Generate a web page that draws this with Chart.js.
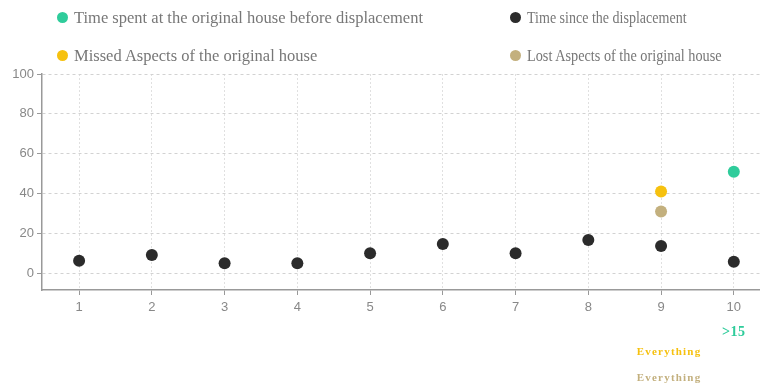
<!DOCTYPE html>
<html>
<head>
<meta charset="utf-8">
<script src="https://cdn.jsdelivr.net/npm/chart.js@4/dist/chart.umd.min.js"></script>
<style>
  html, body { margin: 0; padding: 0; background: #fff; }
  #wrap { position: relative; width: 760px; height: 385px; }
  #legend { position: absolute; left: 0; top: 0; width: 760px; height: 70px; font-family: "Liberation Serif", "Times New Roman", serif; font-size: 16.5px; color: #777; }
  .item { position: absolute; white-space: nowrap; line-height: 20px; transform-origin: 0 50%; }
  .dot { position: absolute; width: 11px; height: 11px; border-radius: 50%; left: -17px; top: 4px; }
</style>
</head>
<body>
<div id="wrap">
  <canvas id="c" width="760" height="385"></canvas>
  <div id="legend"></div>
</div>
<script>
// ---- data ----
const categories = [1, 2, 3, 4, 5, 6, 7, 8, 9, 10];
const yTicks = [0, 20, 40, 60, 80, 100];
const timeSinceDisplacement = [6.3, 9.2, 5, 5, 10, 14.7, 10, 16.7, 13.7, 5.8];
const timeSpentBefore = [null, null, null, null, null, null, null, null, null, 51];
const missedAspects = [null, null, null, null, null, null, null, null, 41, null];
const lostAspects = [null, null, null, null, null, null, null, null, 31, null];
const seriesNames = [
  'Time spent at the original house before displacement',
  'Time since the displacement',
  'Missed Aspects of the original house',
  'Lost Aspects of the original house'
];
const seriesColors = ['#2fcc9b', '#2b2b2b', '#f6c10f', '#c3b07e'];
// value labels shown under the axis (category, series index, text)
const noteCategories = [10, 9, 9];
const noteSeries = [0, 2, 3];
const noteTexts = ['>15', 'Everything', 'Everything'];

function toPoints(arr) {
  return categories.map((c, i) => arr[i] == null ? null : { x: c, y: arr[i] }).filter(p => p);
}
const seriesValues = [timeSpentBefore, timeSinceDisplacement, missedAspects, lostAspects];

// ---- legend (HTML) ----
const legendPos = [[74, 8], [527, 8], [74, 46], [527, 46]];
const legendScale = [1, 0.85, 1, 0.865];
const legend = document.getElementById('legend');
seriesNames.forEach((n, i) => {
  const d = document.createElement('div');
  d.className = 'item';
  d.style.left = legendPos[i][0] + 'px';
  d.style.top = legendPos[i][1] + 'px';
  const dot = document.createElement('span');
  dot.className = 'dot';
  dot.style.background = seriesColors[i];
  d.appendChild(dot);
  const t = document.createElement('span');
  t.style.display = 'inline-block';
  t.style.transformOrigin = '0 50%';
  t.style.transform = 'scaleX(' + legendScale[i] + ')';
  t.textContent = n;
  d.appendChild(t);
  legend.appendChild(d);
});

// ---- notes plugin ----
const notesPlugin = {
  id: 'notes',
  afterDraw(chart) {
    const ctx = chart.ctx;
    const xs = chart.scales.x;
    const ys = [336, 355, 381];
    const offs = [0, 8, 8];
    ctx.save();
    ctx.textAlign = 'center';
    ctx.textBaseline = 'alphabetic';
    noteTexts.forEach((t, i) => {
      ctx.fillStyle = seriesColors[noteSeries[i]];
      if (i === 0) {
        ctx.font = 'bold 14px "Liberation Serif", serif';
        ctx.letterSpacing = '0.5px';
      } else {
        ctx.font = 'bold 11px "Liberation Serif", serif';
        ctx.letterSpacing = '1.2px';
      }
      ctx.fillText(t, xs.getPixelForValue(noteCategories[i]) + offs[i], ys[i]);
    });
    ctx.restore();
  }
};

new Chart(document.getElementById('c'), {
  type: 'scatter',
  data: {
    datasets: seriesNames.map((n, i) => ({
      label: n,
      data: toPoints(seriesValues[i]),
      backgroundColor: seriesColors[i],
      borderColor: seriesColors[i],
      borderWidth: 0,
      pointRadius: 6,
      pointHoverRadius: 6
    }))
  },
  options: {
    responsive: false,
    animation: false,
    devicePixelRatio: 1,
    layout: { autoPadding: false, padding: { top: 74, right: 0, left: 0, bottom: 0 } },
    plugins: { legend: { display: false }, tooltip: { enabled: false } },
    scales: {
      x: {
        type: 'linear',
        min: 0.49,
        max: 10.36,
        afterBuildTicks: s => { s.ticks = categories.map(v => ({ value: v })); },
        afterFit: s => { s.height = 95; },
        grid: {
          color: '#e0e0e0',
          tickBorderDash: [],
          tickColor: '#999',
          tickLength: 5,
          drawTicks: true
        },
        border: { color: '#999', width: 1.5, dash: [2, 2] },
        ticks: {
          color: '#888',
          font: { family: '"Liberation Sans", Arial, sans-serif', size: 13 },
          padding: 5,
          maxRotation: 0
        }
      },
      y: {
        min: -8.4,
        max: 100,
        afterBuildTicks: s => { s.ticks = yTicks.map(v => ({ value: v })); },
        afterFit: s => { s.width = 42; },
        grid: {
          color: '#d2d2d2',
          tickBorderDash: [],
          tickColor: '#999',
          tickLength: 5,
          drawTicks: true
        },
        border: { color: '#999', width: 1.5, dash: [3, 3] },
        ticks: {
          color: '#888',
          font: { family: '"Liberation Sans", Arial, sans-serif', size: 13 },
          padding: 3
        }
      }
    }
  },
  plugins: [notesPlugin]
});
</script>
</body>
</html>
